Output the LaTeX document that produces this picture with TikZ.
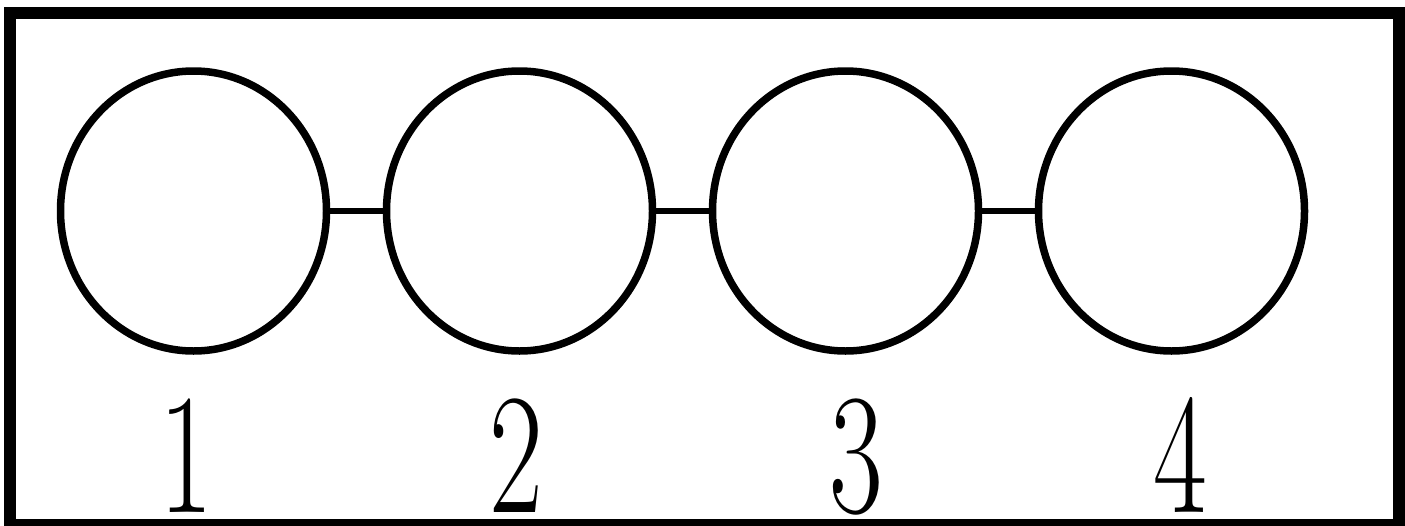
\documentclass[tikz,border=0pt]{standalone}
\usepackage{fontspec}
\usepackage{graphicx}
\usetikzlibrary{shapes.geometric}
\begin{document}
\begin{tikzpicture}[x=1pt,y=-1pt,
  ring/.style={draw=black,line width=7.5pt,ellipse,minimum width=266pt,minimum height=280pt,inner sep=0pt},
  link/.style={draw=black,line width=5.5pt},
  frame/.style={draw=black,line width=12pt},
  digit/.style={anchor=base,inner sep=0pt,font=\fontsize{172}{172}\selectfont}]
\useasboundingbox (0,0) rectangle (1405,525);
\draw[frame] (10,13) rectangle (1399,525);
\node[ring] (c1) at (193.5,211) {};
\node[ring] (c2) at (519.5,211) {};
\node[ring] (c3) at (845.5,211) {};
\node[ring] (c4) at (1171.5,211) {};
\draw[link] (c1.east) -- (c2.west);
\draw[link] (c2.east) -- (c3.west);
\draw[link] (c3.east) -- (c4.west);
\node[digit] (n1) at (186,512) {\scalebox{0.68}[1]{1}};
\node[digit] (n2) at (516,512) {\scalebox{0.68}[1]{2}};
\node[digit] (n3) at (856,512) {\scalebox{0.68}[1]{3}};
\node[digit] (n4) at (1180,512) {\scalebox{0.68}[1]{4}};
\end{tikzpicture}
\end{document}
